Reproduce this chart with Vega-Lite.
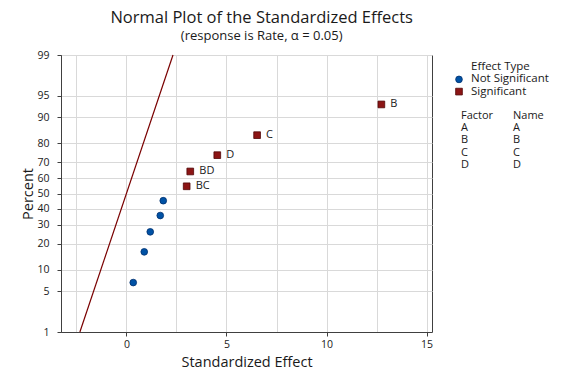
{
  "$schema": "https://vega.github.io/schema/vega-lite/v6.json",
  "padding": {"left": 20, "top": 10, "right": 5, "bottom": 5},
  "background": "white",
  "config": {
    "font": "Open Sans",
    "view": {"stroke": "#404040", "strokeWidth": 1},
    "axis": {"labelColor": "#1a1a1a", "titleColor": "#1a1a1a", "labelFontSize": 10.5, "titleFontSize": 14.5, "titleFontWeight": "normal", "domainColor": "#404040", "tickColor": "#404040", "gridColor": "#d9d9d9", "tickSize": 4, "labelOverlap": false}
  },
  "title": {
    "text": "Normal Plot of the Standardized Effects",
    "subtitle": "(response is Rate, α = 0.05)",
    "anchor": "middle",
    "dx": -23,
    "fontSize": 16.5,
    "fontWeight": "normal",
    "color": "#1a1a1a",
    "subtitleFontSize": 13,
    "subtitleColor": "#1a1a1a",
    "subtitlePadding": 3,
    "offset": 7
  },
  "resolve": {"scale": {"x": "independent", "y": "independent", "color": "independent", "shape": "independent"}},
  "spacing": 20,
  "hconcat": [
    {
      "width": 371,
      "height": 277,
      "layer": [
        {
          "data": {"values": [
            {"effect": -2.3263, "z": -2.3263},
            {"effect": 2.3263, "z": 2.3263}
          ]},
          "mark": {"type": "line", "color": "#7a0000", "strokeWidth": 1.2},
          "encoding": {
            "x": {"field": "effect", "type": "quantitative", "scale": {"domain": [-3.27, 15.27], "nice": false, "zero": false},
              "axis": {"title": "Standardized Effect", "values": [-2.5, 0, 2.5, 5, 7.5, 10, 12.5, 15], "tickCount": 20, "labelExpr": "datum.value % 5 === 0 ? datum.label : ''", "tickOpacity": {"condition": {"test": "datum.value % 5 !== 0", "value": 0}, "value": 1}, "labelPadding": 3, "titlePadding": 6}},
            "y": {"field": "z", "type": "quantitative", "scale": {"domain": [-2.3263, 2.3263], "nice": false, "zero": false},
              "axis": {"title": "Percent", "values": [-2.3263, -1.6449, -1.2816, -0.8416, -0.5244, -0.2533, 0, 0.2533, 0.5244, 0.8416, 1.2816, 1.6449, 2.3263], "tickCount": 20, "labelExpr": "format(cumulativeNormal(datum.value) * 100, '.0f')", "labelPadding": 8, "titlePadding": 1}}
          }
        },
        {
          "data": {"name": "effects", "values": [
            {"term": "", "effect": 0.34, "percent": 6.7, "z": -1.496, "type": "Not Significant"},
            {"term": "", "effect": 0.89, "percent": 16.3, "z": -0.980, "type": "Not Significant"},
            {"term": "", "effect": 1.19, "percent": 26.0, "z": -0.644, "type": "Not Significant"},
            {"term": "", "effect": 1.69, "percent": 35.6, "z": -0.370, "type": "Not Significant"},
            {"term": "", "effect": 1.84, "percent": 45.2, "z": -0.121, "type": "Not Significant"},
            {"term": "BC", "effect": 3.01, "percent": 54.8, "z": 0.121, "type": "Significant"},
            {"term": "BD", "effect": 3.19, "percent": 64.4, "z": 0.370, "type": "Significant"},
            {"term": "D", "effect": 4.54, "percent": 74.0, "z": 0.644, "type": "Significant"},
            {"term": "C", "effect": 6.53, "percent": 83.7, "z": 0.980, "type": "Significant"},
            {"term": "B", "effect": 12.74, "percent": 93.3, "z": 1.496, "type": "Significant"}
          ]},
          "layer": [
            {
              "mark": {"type": "point", "filled": true, "size": 45, "strokeWidth": 0.8, "opacity": 1},
              "encoding": {
                "x": {"field": "effect", "type": "quantitative"},
                "y": {"field": "z", "type": "quantitative"},
                "fill": {"field": "type", "type": "nominal", "scale": {"domain": ["Not Significant", "Significant"], "range": ["#0052a5", "#8c1515"]}, "legend": null},
                "stroke": {"field": "type", "type": "nominal", "scale": {"domain": ["Not Significant", "Significant"], "range": ["#00306e", "#520808"]}, "legend": null},
                "shape": {"field": "type", "type": "nominal", "scale": {"domain": ["Not Significant", "Significant"], "range": ["circle", "square"]}, "legend": null}
              }
            },
            {
              "transform": [{"filter": "datum.type === 'Significant'"}],
              "mark": {"type": "text", "align": "left", "baseline": "middle", "dx": 9, "fontSize": 11, "color": "#1a1a1a"},
              "encoding": {
                "x": {"field": "effect", "type": "quantitative"},
                "y": {"field": "z", "type": "quantitative"},
                "text": {"field": "term"}
              }
            }
          ]
        }
      ]
    },
    {
      "width": 52,
      "height": 122,
      "view": {"stroke": null},
      "data": {"values": [
        {"row": "Effect Type", "col": "left", "label": "Effect Type", "kind": "legend"},
        {"row": "Not Significant", "col": "left", "label": "Not Significant", "kind": "legend", "type": "Not Significant"},
        {"row": "Significant", "col": "left", "label": "Significant", "kind": "legend", "type": "Significant"},
        {"row": "Factor", "col": "left", "label": "Factor", "kind": "table"},
        {"row": "Factor", "col": "right", "label": "Name", "kind": "table"},
        {"row": "A", "col": "left", "label": "A", "kind": "table"},
        {"row": "A", "col": "right", "label": "A", "kind": "table"},
        {"row": "B", "col": "left", "label": "B", "kind": "table"},
        {"row": "B", "col": "right", "label": "B", "kind": "table"},
        {"row": "C", "col": "left", "label": "C", "kind": "table"},
        {"row": "C", "col": "right", "label": "C", "kind": "table"},
        {"row": "D", "col": "left", "label": "D", "kind": "table"},
        {"row": "D", "col": "right", "label": "D", "kind": "table"}
      ]},
      "encoding": {
        "x": {"field": "col", "type": "nominal", "scale": {"type": "point", "domain": ["left", "right"], "padding": 0}, "axis": null},
        "y": {"field": "row", "type": "nominal", "scale": {"type": "point", "domain": ["Effect Type", "Not Significant", "Significant", "gap", "Factor", "A", "B", "C", "D"], "padding": 1.08}, "axis": null}
      },
      "layer": [
        {
          "transform": [{"filter": "datum.kind === 'legend'"}],
          "mark": {"type": "text", "align": "left", "baseline": "middle", "dx": 10, "fontSize": 11.5, "color": "#1a1a1a"},
          "encoding": {"text": {"field": "label"}}
        },
        {
          "transform": [{"filter": "datum.kind === 'table'"}],
          "mark": {"type": "text", "align": "left", "baseline": "middle", "fontSize": 11, "color": "#1a1a1a"},
          "encoding": {"text": {"field": "label"}}
        },
        {
          "transform": [{"filter": "isValid(datum.type)"}],
          "mark": {"type": "point", "filled": true, "size": 45, "strokeWidth": 0.8, "opacity": 1, "xOffset": -2},
          "encoding": {
            "fill": {"field": "type", "type": "nominal", "scale": {"domain": ["Not Significant", "Significant"], "range": ["#0052a5", "#8c1515"]}, "legend": null},
            "stroke": {"field": "type", "type": "nominal", "scale": {"domain": ["Not Significant", "Significant"], "range": ["#00306e", "#520808"]}, "legend": null},
            "shape": {"field": "type", "type": "nominal", "scale": {"domain": ["Not Significant", "Significant"], "range": ["circle", "square"]}, "legend": null}
          }
        }
      ]
    }
  ]
}
